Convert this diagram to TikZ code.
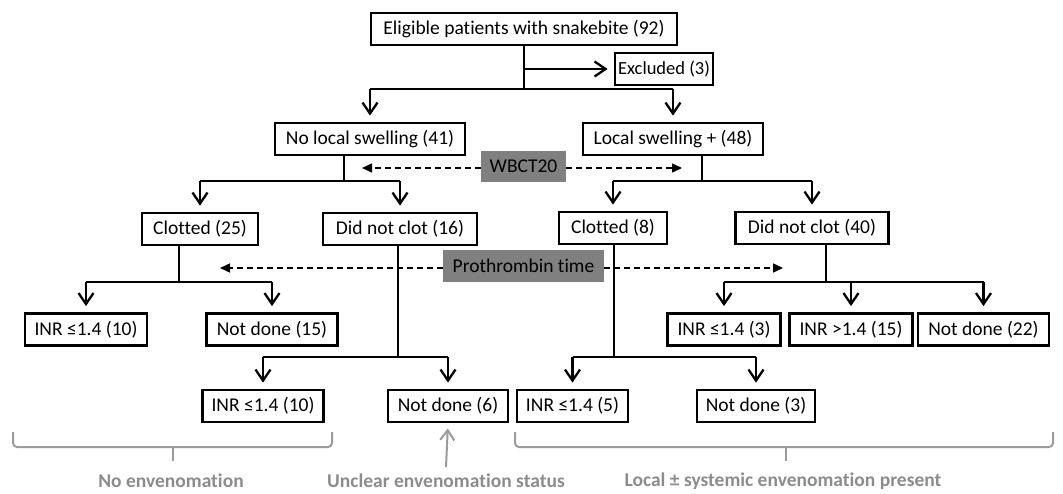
\documentclass[tikz,border=0pt]{standalone}
\usepackage{fontspec}
\setmainfont[Ligatures=NoCommon]{Carlito}
\usetikzlibrary{arrows.meta}
\definecolor{boxgray}{RGB}{128,128,128}
\definecolor{labgray}{RGB}{140,140,140}
\definecolor{brgray}{RGB}{155,155,155}
\begin{document}
\begin{tikzpicture}[x=1pt,y=-1pt,
  box/.style={draw,line width=2.8pt,inner sep=0pt,minimum height=32pt,font=\fontsize{19.5}{22}\selectfont},
  gbox/.style={fill=boxgray,inner sep=0pt,minimum height=31pt,font=\fontsize{19.5}{22}\selectfont},
  ln/.style={line width=2.3pt},
  arr/.style={line width=2.3pt,-{Straight Barb[length=11pt,width=15pt]},shorten >=6pt},
  darr/.style={line width=1.5pt,dash pattern=on 6pt off 4pt,-{Triangle[length=10pt,width=9pt]}},
  brk/.style={line width=2pt,draw=brgray,rounded corners=4pt},
  lab/.style={text=labgray,font=\fontsize{19.5}{22}\selectfont\bfseries}]
\useasboundingbox (0,0) rectangle (1063,493);
% nodes
\node[box,minimum width=306pt] (top) at (524,29) {Eligible patients with snakebite (92)};
\node[box,minimum width=98pt,font=\fontsize{18.5}{21}\selectfont] (excl) at (664,69) {Excluded (3)};
\node[box,minimum width=190pt] (nls) at (370,139) {No local swelling (41)};
\node[box,minimum width=180pt] (ls) at (673,139) {Local swelling + (48)};
\node[box,minimum width=116pt] (c25) at (200,229) {Clotted (25)};
\node[box,minimum width=154pt] (dnc16) at (400,229) {Did not clot (16)};
\node[box,minimum width=108pt] (c8) at (613,228) {Clotted (8)};
\node[box,minimum width=153pt] (dnc40) at (812,228) {Did not clot (40)};
\node[box,minimum width=122pt] (inra) at (86,329.5) {INR ≤1.4 (10)};
\node[box,minimum width=131pt] (nd15) at (272,329.5) {Not done (15)};
\node[box,minimum width=113pt] (inr3) at (724,329.5) {INR ≤1.4 (3)};
\node[box,minimum width=123pt] (inr15) at (851,329.5) {INR >1.4 (15)};
\node[box,minimum width=131pt] (nd22) at (983.5,329.5) {Not done (22)};
\node[box,minimum width=121pt] (inrb) at (263,406) {INR ≤1.4 (10)};
\node[box,minimum width=120pt] (nd6) at (448,406) {Not done (6)};
\node[box,minimum width=111pt] (inr5) at (572.5,406) {INR ≤1.4 (5)};
\node[box,minimum width=118pt] (nd3) at (756,406) {Not done (3)};
\node[gbox,minimum width=85pt] (wb) at (523.5,166.5) {WBCT20};
\node[gbox,minimum width=161pt,minimum height=32pt] (pt) at (523.5,266) {Prothrombin time};
% branch coordinates
\coordinate (b0) at (524,89);
\coordinate (bx) at (524,69);
\coordinate (b1) at (344,181);
\coordinate (b2) at (702,181);
\coordinate (b3) at (179,282);
\coordinate (b4) at (398,357);
\coordinate (b5) at (614,357);
\coordinate (b6) at (826,282);
% level 0
\draw[ln] (top.south) -- (b0);
\draw[arr] (bx) -- (excl.west);
\draw[ln] (nls.north |- b0) -- (ls.north |- b0);
\draw[arr] (nls.north |- b0) -- (nls.north);
\draw[arr] (ls.north |- b0) -- (ls.north);
% level 1
\draw[ln] (b1 |- nls.south) -- (b1);
\draw[ln] (c25.north |- b1) -- (dnc16.north |- b1);
\draw[arr] (c25.north |- b1) -- (c25.north);
\draw[arr] (dnc16.north |- b1) -- (dnc16.north);
\draw[ln] (b2 |- ls.south) -- (b2);
\draw[ln] (c8.north |- b2) -- (dnc40.north |- b2);
\draw[arr] (c8.north |- b2) -- (c8.north);
\draw[arr] (dnc40.north |- b2) -- (dnc40.north);
% level 2
\draw[ln] (b3 |- c25.south) -- (b3);
\draw[ln] (inra.north |- b3) -- (nd15.north |- b3);
\draw[arr] (inra.north |- b3) -- (inra.north);
\draw[arr] (nd15.north |- b3) -- (nd15.north);
\draw[ln] (b4 |- dnc16.south) -- (b4);
\draw[ln] (inrb.north |- b4) -- (nd6.north |- b4);
\draw[arr] (inrb.north |- b4) -- (inrb.north);
\draw[arr] (nd6.north |- b4) -- (nd6.north);
\draw[ln] (b5 |- c8.south) -- (b5);
\draw[ln] (inr5.north |- b5) -- (nd3.north |- b5);
\draw[arr] (inr5.north |- b5) -- (inr5.north);
\draw[arr] (nd3.north |- b5) -- (nd3.north);
\draw[ln] (b6 |- dnc40.south) -- (b6);
\draw[ln] (inr3.north |- b6) -- (nd22.north |- b6);
\draw[arr] (inr3.north |- b6) -- (inr3.north);
\draw[arr] (inr15.north |- b6) -- (inr15.north);
\draw[arr] (nd22.north |- b6) -- (nd22.north);
% dashed
\coordinate (w1) at (362,168);
\coordinate (w2) at (682,168);
\coordinate (p1) at (220,268);
\coordinate (p2) at (783,268);
\draw[darr] (wb.west |- w1) -- (w1);
\draw[darr] (wb.east |- w2) -- (w2);
\draw[darr] (pt.west |- p1) -- (p1);
\draw[darr] (pt.east |- p2) -- (p2);
% brackets
\draw[brk] (13,432) -- (13,447) -- (332,447) -- (332,432);
\draw[brk] (173,447) -- (173,461);
\draw[brk] (515,432) -- (515,447) -- (1053,447) -- (1053,432);
\draw[brk] (786,447) -- (786,461);
\coordinate (ua) at (446,467);
\draw[line width=2pt,draw=brgray,-{Straight Barb[length=10pt,width=14pt]},shorten >=5pt] (ua) -- (nd6.south);
% labels
\node[lab] (l1) at (171,481) {No envenomation};
\node[lab] (l2) at (446,481) {Unclear envenomation status};
\node[lab] (l3) at (783,481) {Local ± systemic envenomation present};
\end{tikzpicture}
\end{document}
